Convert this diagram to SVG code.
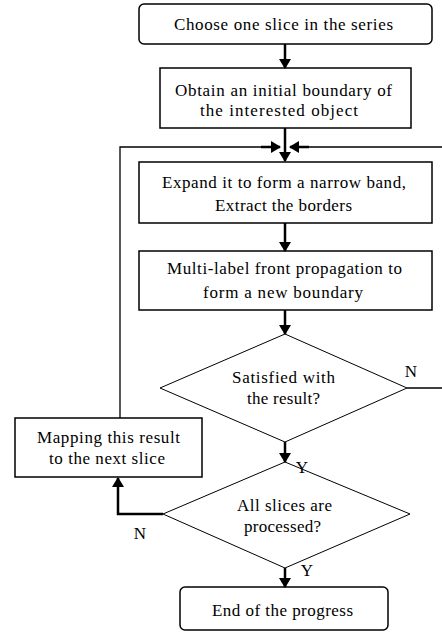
<svg xmlns="http://www.w3.org/2000/svg" width="442" height="634" viewBox="0 0 442 634">
<style>
.box{fill:#fff;stroke:#000;stroke-width:1.5}
.dia{fill:#fff;stroke:#000;stroke-width:1}
.ln{fill:none;stroke:#000;stroke-width:2.5}
.thin{fill:none;stroke:#000;stroke-width:1.3}
text{font-family:"Liberation Serif","Times New Roman",serif;font-size:17px;fill:#000;text-anchor:middle}
</style>
<defs>
<marker id="ah" viewBox="0 0 10 12" refX="9" refY="6" markerWidth="4" markerHeight="4.8" orient="auto" markerUnits="strokeWidth">
<path d="M0,0 L10,6 L0,12 z" fill="#000"/>
</marker>
</defs>
<rect width="442" height="634" fill="#fff"/>
<g id="n1">
<rect class="box" x="139" y="4" width="293" height="40" rx="5"/>
<text x="283.5" y="30" textLength="219" lengthAdjust="spacing">Choose one slice in the series</text>
</g>
<g id="n2">
<rect class="box" x="160" y="68" width="251" height="60"/>
<text x="283.5" y="96" textLength="217" lengthAdjust="spacing">Obtain an initial boundary of</text>
<text x="279" y="116" textLength="158" lengthAdjust="spacing">the interested object</text>
</g>
<g id="n3">
<rect class="box" x="139" y="162" width="293" height="61"/>
<text x="284" y="188" textLength="244" lengthAdjust="spacing">Expand it to form a narrow band,</text>
<text x="283.5" y="211" textLength="137" lengthAdjust="spacing">Extract the borders</text>
</g>
<g id="n4">
<rect class="box" x="139" y="251" width="293" height="59"/>
<text x="284.5" y="274" textLength="235" lengthAdjust="spacing">Multi-label front propagation to</text>
<text x="283" y="298" textLength="160" lengthAdjust="spacing">form a new boundary</text>
</g>
<g id="d1">
<polygon class="dia" points="285,334 407,388 285,442 160,388"/>
<text x="283.5" y="383" textLength="103" lengthAdjust="spacing">Satisfied with</text>
<text x="283.5" y="404" textLength="73" lengthAdjust="spacing">the result?</text>
</g>
<g id="n5">
<rect class="box" x="15" y="418" width="187" height="59"/>
<text x="108.5" y="443" textLength="143" lengthAdjust="spacing">Mapping this result</text>
<text x="107" y="464" textLength="116" lengthAdjust="spacing">to the next slice</text>
</g>
<g id="d2">
<polygon class="dia" points="285,462 410,514 285,568 163,514"/>
<text x="284.5" y="511" textLength="95" lengthAdjust="spacing">All slices are</text>
<text x="282.5" y="532" textLength="77" lengthAdjust="spacing">processed?</text>
</g>
<g id="n6">
<rect class="box" x="180" y="587" width="208" height="43" rx="5"/>
<text x="282.5" y="616" textLength="141" lengthAdjust="spacing">End of the progress</text>
</g>
<g id="connectors">
<line class="ln" x1="285" y1="44" x2="285" y2="68" marker-end="url(#ah)"/>
<line class="ln" x1="285" y1="128" x2="285" y2="161" marker-end="url(#ah)"/>
<polyline class="thin" points="120,418 120,147 278,147"/>
<line class="ln" x1="261" y1="147" x2="280" y2="147" marker-end="url(#ah)"/>
<polyline class="thin" points="407,388 446,388 446,147 292,147"/>
<line class="ln" x1="309" y1="147" x2="290" y2="147" marker-end="url(#ah)"/>
<line class="ln" x1="285" y1="223" x2="285" y2="251" marker-end="url(#ah)"/>
<line class="ln" x1="285" y1="310" x2="285" y2="334" marker-end="url(#ah)"/>
<line class="ln" x1="285" y1="442" x2="285" y2="462" marker-end="url(#ah)"/>
<polyline class="ln" points="163,514 118,514 118,478" marker-end="url(#ah)"/>
<line class="ln" x1="285" y1="568" x2="285" y2="587" marker-end="url(#ah)"/>
<text x="411" y="377">N</text>
<text x="302" y="473">Y</text>
<text x="140" y="539">N</text>
<text x="307" y="576">Y</text>
</g>
</svg>
